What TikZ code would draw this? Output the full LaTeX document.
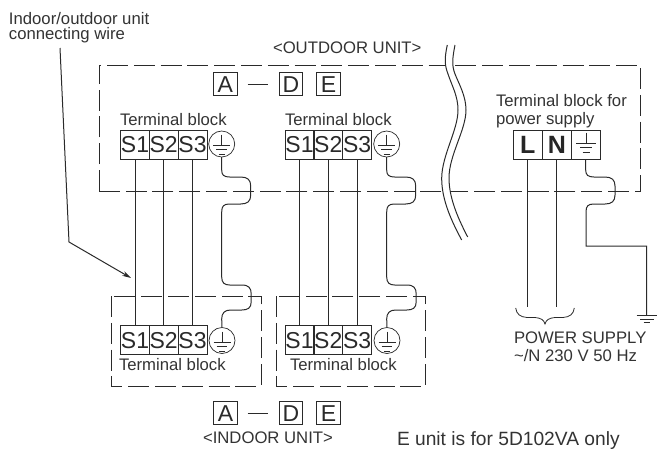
\documentclass[tikz,border=0pt]{standalone}
\usepackage{fontspec}
\usetikzlibrary{arrows.meta}
\setmainfont{Liberation Sans}
\definecolor{ink}{HTML}{2A2A2A}
\definecolor{txt}{HTML}{333333}
\tikzset{
  x=1pt,y=-1pt,
  every node/.style={inner sep=0pt,outer sep=0pt},
  lbl/.style={font=\fontsize{16.7}{16.7}\selectfont,text=txt,anchor=base west},
  notelbl/.style={lbl,font=\fontsize{19.2}{19.2}\selectfont},
  cell/.style={draw=ink,line width=0.7pt,minimum width=29pt,minimum height=29pt,font=\fontsize{23}{23}\selectfont,text=ink,anchor=north west},
  boldcell/.style={cell,font=\fontsize{25}{25}\bfseries\selectfont,text=black!85},
  letter/.style={draw=ink,line width=0.7pt,minimum width=23.5pt,minimum height=23pt,font=\fontsize{23}{23}\selectfont,text=ink,anchor=north west},
  erth/.style={circle,draw=ink,line width=0.7pt,minimum size=26pt},
  wire/.style={draw=ink,line width=1pt},
  unitbox/.style={draw=ink,line width=1pt,dash pattern=on 21pt off 5.8pt},
  breakline/.style={draw=ink,line width=1pt},
  gnd/.style={draw=ink,line width=0.8pt},
}
\newcommand{\earthmark}[3]{% x, y of top bar, half width of top bar
  \draw[gnd] (#1,#2-10.5) -- (#1,#2);
  \draw[gnd] (#1-#3,#2) -- (#1+#3,#2);
  \draw[gnd] (#1-#3*0.62,#2+4.7) -- (#1+#3*0.62,#2+4.7);
  \draw[gnd] (#1-#3*0.35,#2+9) -- (#1+#3*0.35,#2+9);
}
\begin{document}
\begin{tikzpicture}
\useasboundingbox (0,0) rectangle (662,451);
% outdoor and indoor boxes
\draw[unitbox] (99,191) -- (99,65) -- (640,65) -- (640,191) -- cycle;
\draw[unitbox] (111,296) -- (111,386) -- (261,386) -- (261,296) -- cycle;
\draw[unitbox] (276,296) -- (276,386) -- (425.7,386) -- (425.7,296) -- cycle;
% break lines
\fill[white] (447.3,45) .. controls (444,60) and (445,66) .. (448,74) .. controls (452,86) and (458,96) .. (458,110) .. controls (458,130) and (442,155) .. (441.7,178) .. controls (441.5,200) and (452,222) .. (461.7,240) -- (467.7,237) .. controls (460,222) and (449,200) .. (449,178) .. controls (449,155) and (466,130) .. (466,110) .. controls (466,96) and (459,84) .. (455,74) .. controls (452,66) and (452,60) .. (455,45) -- cycle;
\draw[breakline] (447.3,45) .. controls (444,60) and (445,66) .. (448,74) .. controls (452,86) and (458,96) .. (458,110) .. controls (458,130) and (442,155) .. (441.7,178) .. controls (441.5,200) and (452,222) .. (461.7,240);
\draw[breakline] (455,45) .. controls (452,60) and (452,66) .. (455,74) .. controls (459,84) and (466,96) .. (466,110) .. controls (466,130) and (449,155) .. (449,178) .. controls (449,200) and (460,222) .. (467.7,237);
% top letters
\node[letter] (oa) at (213.5,72.7) {A};
\node[letter] (od) at (279.3,72.7) {D};
\node[letter] (oe) at (316.7,72.7) {E};
\draw[ink,line width=1.2pt] ([xshift=10.5pt]oa.east) -- ([xshift=-11pt]od.west);
\node[lbl] (ot) at (273,53.5) {<OUTDOOR UNIT>};
\node[lbl] (wl1) at (9,24) {Indoor/outdoor unit};
\node[lbl] (wl2) at (9,39.5) {connecting wire};
% outdoor blocks
\node[lbl] (otb1) at (120,125) {Terminal block};
\node[lbl] (otb2) at (285,125) {Terminal block};
\node[cell] (os1) at (120.5,130) {S1};
\node[cell] (os2) at (149.2,130) {S2};
\node[cell] (os3) at (178,130) {S3};
\node[erth] (oc1) at (221.7,144) {};
\node[cell] (ot1) at (285,130) {S1};
\node[cell] (ot2) at (313.8,130) {S2};
\node[cell] (ot3) at (342.6,130) {S3};
\node[erth] (oc2) at (386.7,144) {};
\node[lbl] (ptb1) at (496,106) {Terminal block for};
\node[lbl] (ptb2) at (496,124) {power supply};
\node[boldcell] (pl) at (513.3,130) {L};
\node[boldcell] (pn) at (542.3,130) {N};
\node[cell] (pe) at (571.2,130) {};
% indoor blocks
\node[cell] (is1) at (120.5,325.7) {S1};
\node[cell] (is2) at (149.2,325.7) {S2};
\node[cell] (is3) at (178,325.7) {S3};
\node[erth] (ic1) at (222,340.5) {};
\node[cell] (it1) at (285,325.7) {S1};
\node[cell] (it2) at (313.8,325.7) {S2};
\node[cell] (it3) at (342.6,325.7) {S3};
\node[erth] (ic2) at (387,340.5) {};
\node[lbl] (itb1) at (119,370.7) {Terminal block};
\node[lbl] (itb2) at (290,370.7) {Terminal block};
% earth symbols
\earthmark{221.7}{145}{8.5}
\earthmark{386.7}{145}{8.5}
\earthmark{222}{342}{8.5}
\earthmark{387}{342}{8.5}
\earthmark{586}{143}{10}
% wires
\foreach \a/\b in {os1/is1,os2/is2,os3/is3,ot1/it1,ot2/it2,ot3/it3}
  \draw[wire] (\a.south) -- (\b.north);
% earth wires with jog
\foreach \a/\b/\x in {oc1/ic1/221.7,oc2/ic2/386.7}{
  \draw[wire] (\a.south) -- (\x,170) .. controls (\x,175) and (\x+2,177) .. (\x+8,177) -- (\x+19,177) .. controls (\x+26,177) and (\x+29,180) .. (\x+29,186) -- (\x+29,195) .. controls (\x+29,201) and (\x+26,204) .. (\x+19,204) -- (\x+8,204) .. controls (\x+2,204) and (\x,206) .. (\x,212) -- (\x,277) .. controls (\x,283) and (\x+3,285) .. (\x+8,285) -- (\x+20,285) .. controls (\x+27,285) and (\x+29.5,288) .. (\x+29.5,294) -- (\x+29.5,302) .. controls (\x+29.5,308) and (\x+26,310) .. (\x+20,310) -- (\x+9,310) .. controls (\x+3,310) and (\x,313) .. (\x,319) -- (\b.north);
}
% power wires
\coordinate (lend) at (527.8,307);
\coordinate (nend) at (556.8,307);
\draw[wire] (pl.south) -- (lend);
\draw[wire] (pn.south) -- (nend);
\coordinate (gndtop) at (646.7,315.5);
\draw[wire] (pe.south) -- (585.7,170) .. controls (585.7,175) and (588,177) .. (594,177) -- (605,177) .. controls (612,177) and (615,180) .. (615,186) -- (615,195) .. controls (615,201) and (612,204) .. (605,204) -- (594,204) .. controls (588,204) and (586,206) .. (586,212) -- (586,246) -- (646.7,246) -- (gndtop);
\draw[gnd,line width=1pt] (636.5,315.5) -- (657,315.5);
\draw[gnd,line width=1pt] (640,319) -- (653.5,319);
\draw[gnd,line width=1pt] (643.5,322.3) -- (650,322.3);
% brace
\draw[wire,line width=0.8pt] (515.7,308) .. controls (516.5,314) and (520,317) .. (527,317.5) -- (535,317.5) .. controls (541,318) and (544,320) .. (545,324) .. controls (546,320) and (549,318) .. (555,317.5) -- (563,317.5) .. controls (570,317) and (573.5,314) .. (574.3,308);
\node[lbl] (ps1) at (514,343.5) {POWER SUPPLY};
\node[lbl] (ps2) at (514,361.7) {\textasciitilde/N 230 V 50 Hz};
% bottom letters
\node[letter] (ia) at (213.7,401.7) {A};
\node[letter] (id) at (279.3,401.7) {D};
\node[letter] (ie) at (316.7,401.7) {E};
\draw[ink,line width=1.2pt] ([xshift=10.5pt]ia.east) -- ([xshift=-11pt]id.west);
\node[lbl] (iu) at (203,443.5) {<INDOOR UNIT>};
\node[notelbl] (note) at (397,445) {E unit is for 5D102VA only};
% pointer arrow
\coordinate (ar0) at (60,48);
\coordinate (ar1) at (69,242);
\coordinate (ar2) at (131,278);
\draw[ink,line width=1pt,-{Stealth[length=9pt,width=5pt]}] (ar0) -- (ar1) -- (ar2);
\end{tikzpicture}
\end{document}
